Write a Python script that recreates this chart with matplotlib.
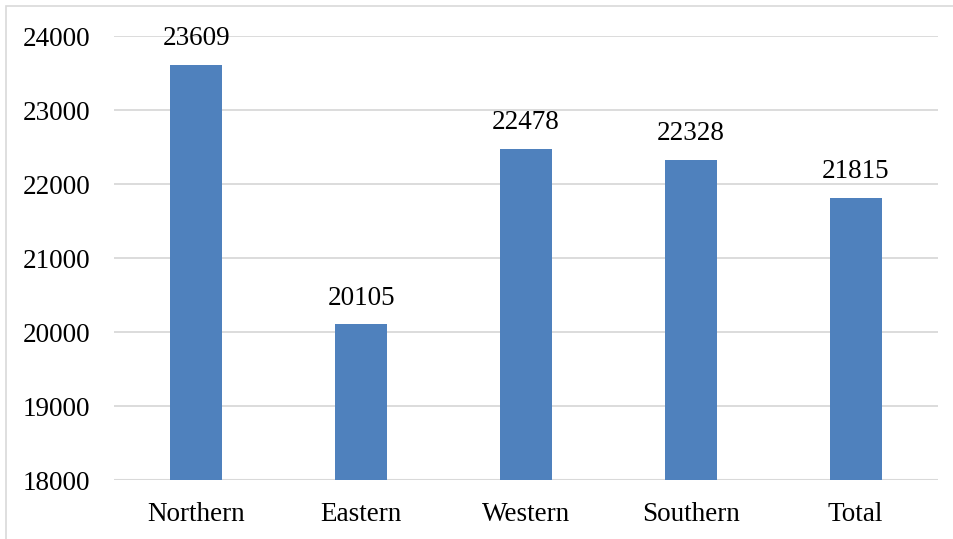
import matplotlib.pyplot as plt
from matplotlib.patches import Rectangle

# average values by region
regions = ["Northern", "Eastern", "Western", "Southern", "Total"]
values = [23609, 20105, 22478, 22328, 21815]
y_ticks = [18000, 19000, 20000, 21000, 22000, 23000, 24000]

plt.rcParams["font.family"] = ["Liberation Serif", "DejaVu Serif"]

fig = plt.figure(figsize=(9.54, 5.39), dpi=100)
W, H = 954, 539
ax = fig.add_axes([114 / W, 1 - 480 / H, (938 - 114) / W, (480 - 36) / H])

bars = ax.bar(regions, values, width=0.315, color="#4f81bd", zorder=3)
ax.set_ylim(18000, 24000)
ax.set_xlim(-0.5, len(regions) - 0.5)
ax.set_yticks(y_ticks)
ax.yaxis.grid(True, color="#d9d9d9", linewidth=1.3, zorder=0)
ax.set_axisbelow(True)
for s in ax.spines.values():
    s.set_visible(False)
ax.axhline(18000, color="#d9d9d9", linewidth=1.5, zorder=2)
ax.tick_params(axis="both", length=0, labelsize=19.5, colors="black")
ax.tick_params(axis="y", pad=17)
ax.tick_params(axis="x", pad=15.5)

# value labels above each bar
for b, v in zip(bars, values):
    ax.annotate(str(v), (b.get_x() + b.get_width() / 2, v),
                xytext=(0, 14), textcoords="offset points",
                ha="center", va="baseline", fontsize=19.5)

# thin frame along the left and top edges
fig.patches.append(Rectangle((6, -10), W + 10, H - 6 + 10, transform=None,
                             fill=False, edgecolor="#d9d9d9", linewidth=1.2))

fig.savefig("out.png", dpi=100)
